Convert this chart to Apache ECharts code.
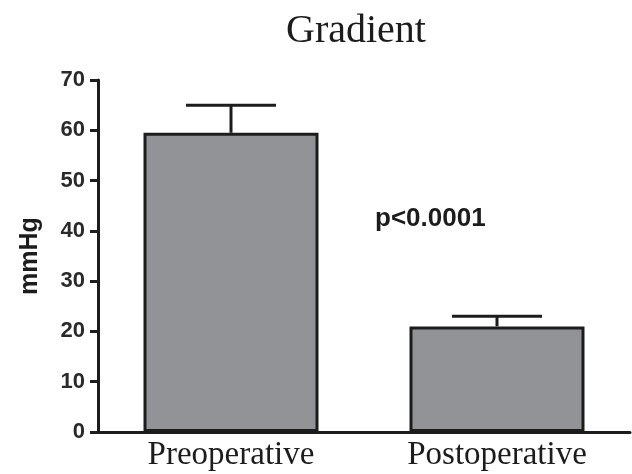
<!DOCTYPE html>
<html>
<head>
<meta charset="utf-8">
<script src="https://cdn.jsdelivr.net/npm/echarts@6/dist/echarts.min.js"></script>
<style>html,body{margin:0;padding:0;background:#fff}#c{width:632px;height:474px}</style>
</head>
<body>
<div id="c"></div>
<script>
var categories = ['Preoperative', 'Postoperative'];
var means = [59.5, 21];
var upper = [65, 23];
var yTicks = [0, 10, 20, 30, 40, 50, 60, 70];

var chart = echarts.init(document.getElementById('c'));
var ink = '#1c1c1c';
chart.setOption({
  animation: false,
  title: {
    text: 'Gradient', left: 351, top: 6, textAlign: 'center',
    textStyle: { fontFamily: 'Liberation Serif', fontSize: 40, fontWeight: 'normal', color: ink }
  },
  grid: { left: 98, right: 2, top: 80, bottom: 42 },
  xAxis: {
    type: 'category', data: categories,
    axisLine: { lineStyle: { color: ink, width: 3 } },
    axisTick: { show: false },
    axisLabel: { fontFamily: 'Liberation Sans', fontFamily: 'Liberation Serif', fontSize: 33, color: ink, margin: 7 }
  },
  yAxis: {
    type: 'value', min: yTicks[0], max: yTicks[yTicks.length - 1], interval: 10,
    name: 'mmHg', nameLocation: 'middle', nameGap: 55,
    nameTextStyle: { fontFamily: 'Liberation Sans', fontSize: 25, fontWeight: 'bold', color: ink },
    axisLine: { show: true, lineStyle: { color: ink, width: 3 } },
    axisTick: { show: true, length: 8, lineStyle: { color: ink, width: 3 } },
    axisLabel: { fontFamily: 'Liberation Sans', fontSize: 22, fontWeight: 'bold', color: '#2a2a2a', margin: 13 },
    splitLine: { show: false }
  },
  graphic: [{
    type: 'text', left: 375, top: 206,
    style: { text: 'p<0.0001', fontFamily: 'Liberation Sans', fontSize: 26, fontWeight: 'bold', fill: ink }
  }],
  series: [{
    type: 'bar', data: means, barWidth: 175,
    itemStyle: { color: '#929397', borderColor: ink, borderWidth: 3 }
  }, {
    type: 'custom',
    data: categories.map(function (c, i) { return [i, means[i], upper[i]]; }),
    renderItem: function (params, api) {
      var base = api.coord([api.value(0), api.value(1)]);
      var top = api.coord([api.value(0), api.value(2)]);
      var half = 45;
      var st = { stroke: ink, lineWidth: 3 };
      return { type: 'group', children: [
        { type: 'line', shape: { x1: base[0], y1: base[1], x2: top[0], y2: top[1] }, style: st },
        { type: 'line', shape: { x1: top[0] - half, y1: top[1], x2: top[0] + half, y2: top[1] }, style: st }
      ]};
    },
    z: 3
  }]
});
</script>
</body>
</html>
